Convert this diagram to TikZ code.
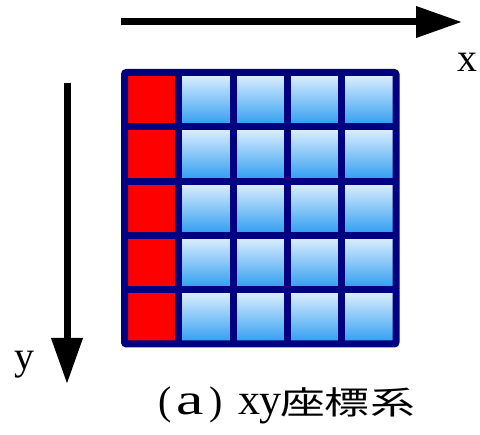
\documentclass[tikz,border=0pt]{standalone}
\usepackage{fontspec}
\setmainfont{Liberation Serif}
\newfontfamily\cjk{Noto Sans CJK JP}
\usetikzlibrary{arrows.meta}
\definecolor{gridnavy}{HTML}{000080}
\definecolor{celltop}{HTML}{E4F2FF}
\definecolor{cellbot}{HTML}{2A9BF0}
\tikzset{
  axisarrow/.style={line width=7pt,-{Triangle[length=46pt,width=30pt]}},
  bluecell/.style={top color=celltop,bottom color=cellbot,draw=none},
  redcell/.style={fill=red,draw=none},
  gridline/.style={draw=gridnavy,line width=7pt},
  axislabel/.style={font=\fontsize{40}{40}\selectfont,inner sep=0pt,anchor=base},
  capl/.style={font=\fontsize{44}{44}\selectfont,inner sep=0pt,anchor=base},
  capc/.style={font=\cjk\fontsize{32}{32}\selectfont,inner sep=0pt,anchor=base,xscale=1.4},
}
\begin{document}
\begin{tikzpicture}[x=1pt,y=-1pt]
\useasboundingbox (0,0) rectangle (480,435);
\def\gx{124.5}\def\gy{72.5}\def\gp{54.3}
% cells
\foreach \i in {0,...,4}{
  \foreach \j in {0,...,4}{
    \ifnum\i=0
      \fill[redcell] ({\gx+\i*\gp},{\gy+\j*\gp}) rectangle ++(\gp,\gp);
    \else
      \shade[bluecell] ({\gx+\i*\gp},{\gy+\j*\gp}) rectangle ++(\gp,\gp);
    \fi
  }
}
% grid lines
\foreach \k in {1,...,4}{
  \draw[gridline] ({\gx+\k*\gp},\gy) -- ({\gx+\k*\gp},{\gy+5*\gp});
  \draw[gridline] (\gx,{\gy+\k*\gp}) -- ({\gx+5*\gp},{\gy+\k*\gp});
}
\draw[gridline,rounded corners=2pt] (\gx,\gy) rectangle ({\gx+5*\gp},{\gy+5*\gp});
% axes
\coordinate (xs) at (121,22);
\coordinate (xe) at (462,22);
\draw[axisarrow] (xs) -- (xe);
\coordinate (ys) at (67,83);
\coordinate (ye) at (67,384);
\draw[axisarrow] (ys) -- (ye);
\node[axislabel] (xl) at (467,72) {x};
\node[axislabel] (yl) at (24,370) {y};
% caption
\node[capl,font=\fontsize{40}{40}\selectfont] (c1) at (165,415) {(};
\node[capl,xscale=1.4] (c2) at (190,415) {a};
\node[capl,font=\fontsize{40}{40}\selectfont] (c3) at (216,415) {)};
\node[capl] (c4) at (249,415) {x};
\node[capl] (c5) at (270,415) {y};
\node[capc] (c6) at (303,415) {座};
\node[capc] (c7) at (347,415) {標};
\node[capc] (c8) at (393,415) {系};
\end{tikzpicture}
\end{document}
